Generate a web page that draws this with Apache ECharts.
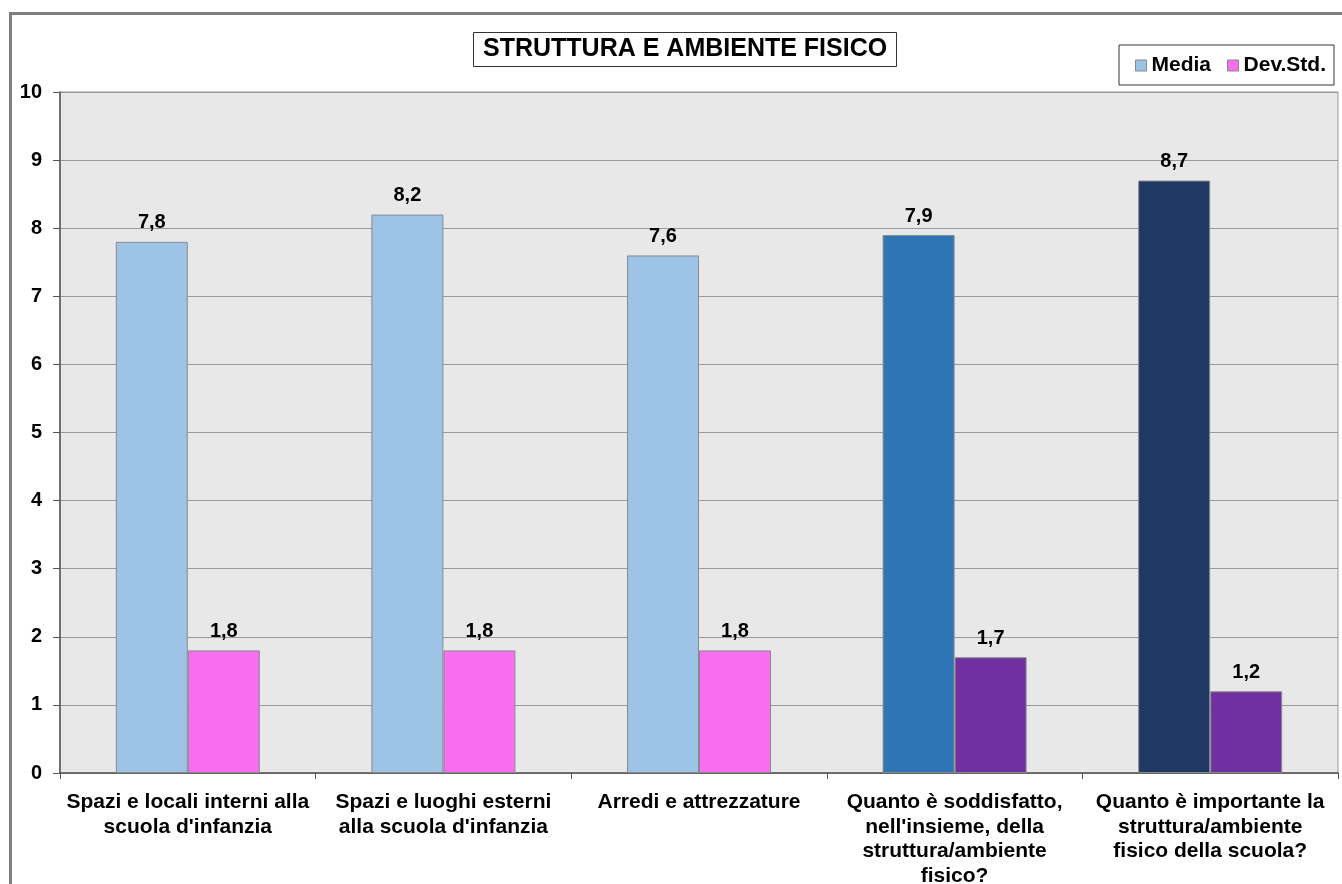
<!DOCTYPE html>
<html>
<head>
<meta charset="utf-8">
<script src="https://cdn.jsdelivr.net/npm/echarts@6/dist/echarts.min.js"></script>
<style>
  html, body { margin: 0; padding: 0; background: #fff; }
  #chart { width: 1342px; height: 884px; }
</style>
</head>
<body>
<div id="chart"></div>
<script>
// categorie asse x
var categories = [
  "Spazi e locali interni alla\nscuola d'infanzia",
  "Spazi e luoghi esterni\nalla scuola d'infanzia",
  "Arredi e attrezzature",
  "Quanto è soddisfatto,\nnell'insieme, della\nstruttura/ambiente\nfisico?",
  "Quanto è importante la\nstruttura/ambiente\nfisico della scuola?"
];
var media = [7.8, 8.2, 7.6, 7.9, 8.7];
var devStd = [1.8, 1.8, 1.8, 1.7, 1.2];
// colori per barra
var mediaColors = ['#9dc3e6', '#9dc3e6', '#9dc3e6', '#2e75b6', '#1f3864'];
var devColors = ['#f76ef0', '#f76ef0', '#f76ef0', '#7030a0', '#7030a0'];

var font = 'Liberation Sans, Arial, sans-serif';

var chart = echarts.init(document.getElementById('chart'));

function lbl(p) {
  return String(p.value.toFixed(1)).replace('.', ',');
}

chart.setOption({
  backgroundColor: '#fff',
  animation: false,
  textStyle: { fontFamily: font },
  title: {
    text: 'STRUTTURA E AMBIENTE FISICO',
    left: 473,
    top: 32,
    padding: [5, 10, 5, 10],
    borderColor: '#333',
    borderWidth: 1,
    textStyle: { fontSize: 25, fontWeight: 'bold', color: '#000', fontFamily: font }
  },
  legend: {
    right: 8,
    top: 45,
    padding: [10, 8, 9, 16],
    borderColor: '#333',
    borderWidth: 1,
    itemWidth: 11,
    itemHeight: 11,
    itemGap: 16,
    icon: 'rect',
    data: [
      { name: 'Media', itemStyle: { color: '#9dc3e6', borderColor: '#888', borderWidth: 1 } },
      { name: 'Dev.Std.', itemStyle: { color: '#f76ef0', borderColor: '#888', borderWidth: 1 } }
    ],
    textStyle: { fontSize: 21, fontWeight: 'bold', color: '#000', fontFamily: font }
  },
  grid: {
    left: 60,
    right: 4,
    top: 92,
    bottom: 111,
    outerBoundsMode: 'none',
    show: true,
    backgroundColor: '#e8e8e8',
    borderColor: '#999',
    borderWidth: 1
  },
  graphic: [{
    type: 'rect',
    shape: { x: 10.5, y: 13.5, width: 1400, height: 1000 },
    style: { fill: 'none', stroke: '#808080', lineWidth: 3 },
    z: 100
  }],
  xAxis: {
    type: 'category',
    data: categories,
    axisLine: { lineStyle: { color: '#555', width: 1.5 } },
    axisTick: { show: true, length: 6, lineStyle: { color: '#555' } },
    axisLabel: {
      interval: 0,
      margin: 17,
      fontSize: 21,
      fontWeight: 'bold',
      color: '#000',
      lineHeight: 24.5,
      fontFamily: font
    }
  },
  yAxis: {
    type: 'value',
    min: 0,
    max: 10,
    interval: 1,
    axisLine: { show: true, lineStyle: { color: '#555', width: 1.5 } },
    axisTick: { show: true, length: 7, lineStyle: { color: '#555' } },
    axisLabel: { fontSize: 20, fontWeight: 'bold', color: '#000', margin: 18, fontFamily: font },
    splitLine: { lineStyle: { color: '#999', width: 1 } }
  },
  series: [
    {
      name: 'Media',
      type: 'bar',
      barWidth: 72,
      barGap: '0%',
      data: media.map(function (v, i) {
        return { value: v, itemStyle: { color: mediaColors[i] } };
      }),
      itemStyle: { borderColor: '#8a8a8a', borderWidth: 1 },
      label: {
        show: true, position: 'top', distance: 9, formatter: lbl,
        fontSize: 20, fontWeight: 'bold', color: '#000', fontFamily: font
      }
    },
    {
      name: 'Dev.Std.',
      type: 'bar',
      barWidth: 72,
      barGap: '0%',
      data: devStd.map(function (v, i) {
        return { value: v, itemStyle: { color: devColors[i] } };
      }),
      itemStyle: { borderColor: '#8a8a8a', borderWidth: 1 },
      label: {
        show: true, position: 'top', distance: 9, formatter: lbl,
        fontSize: 20, fontWeight: 'bold', color: '#000', fontFamily: font
      }
    }
  ]
});
</script>
</body>
</html>
